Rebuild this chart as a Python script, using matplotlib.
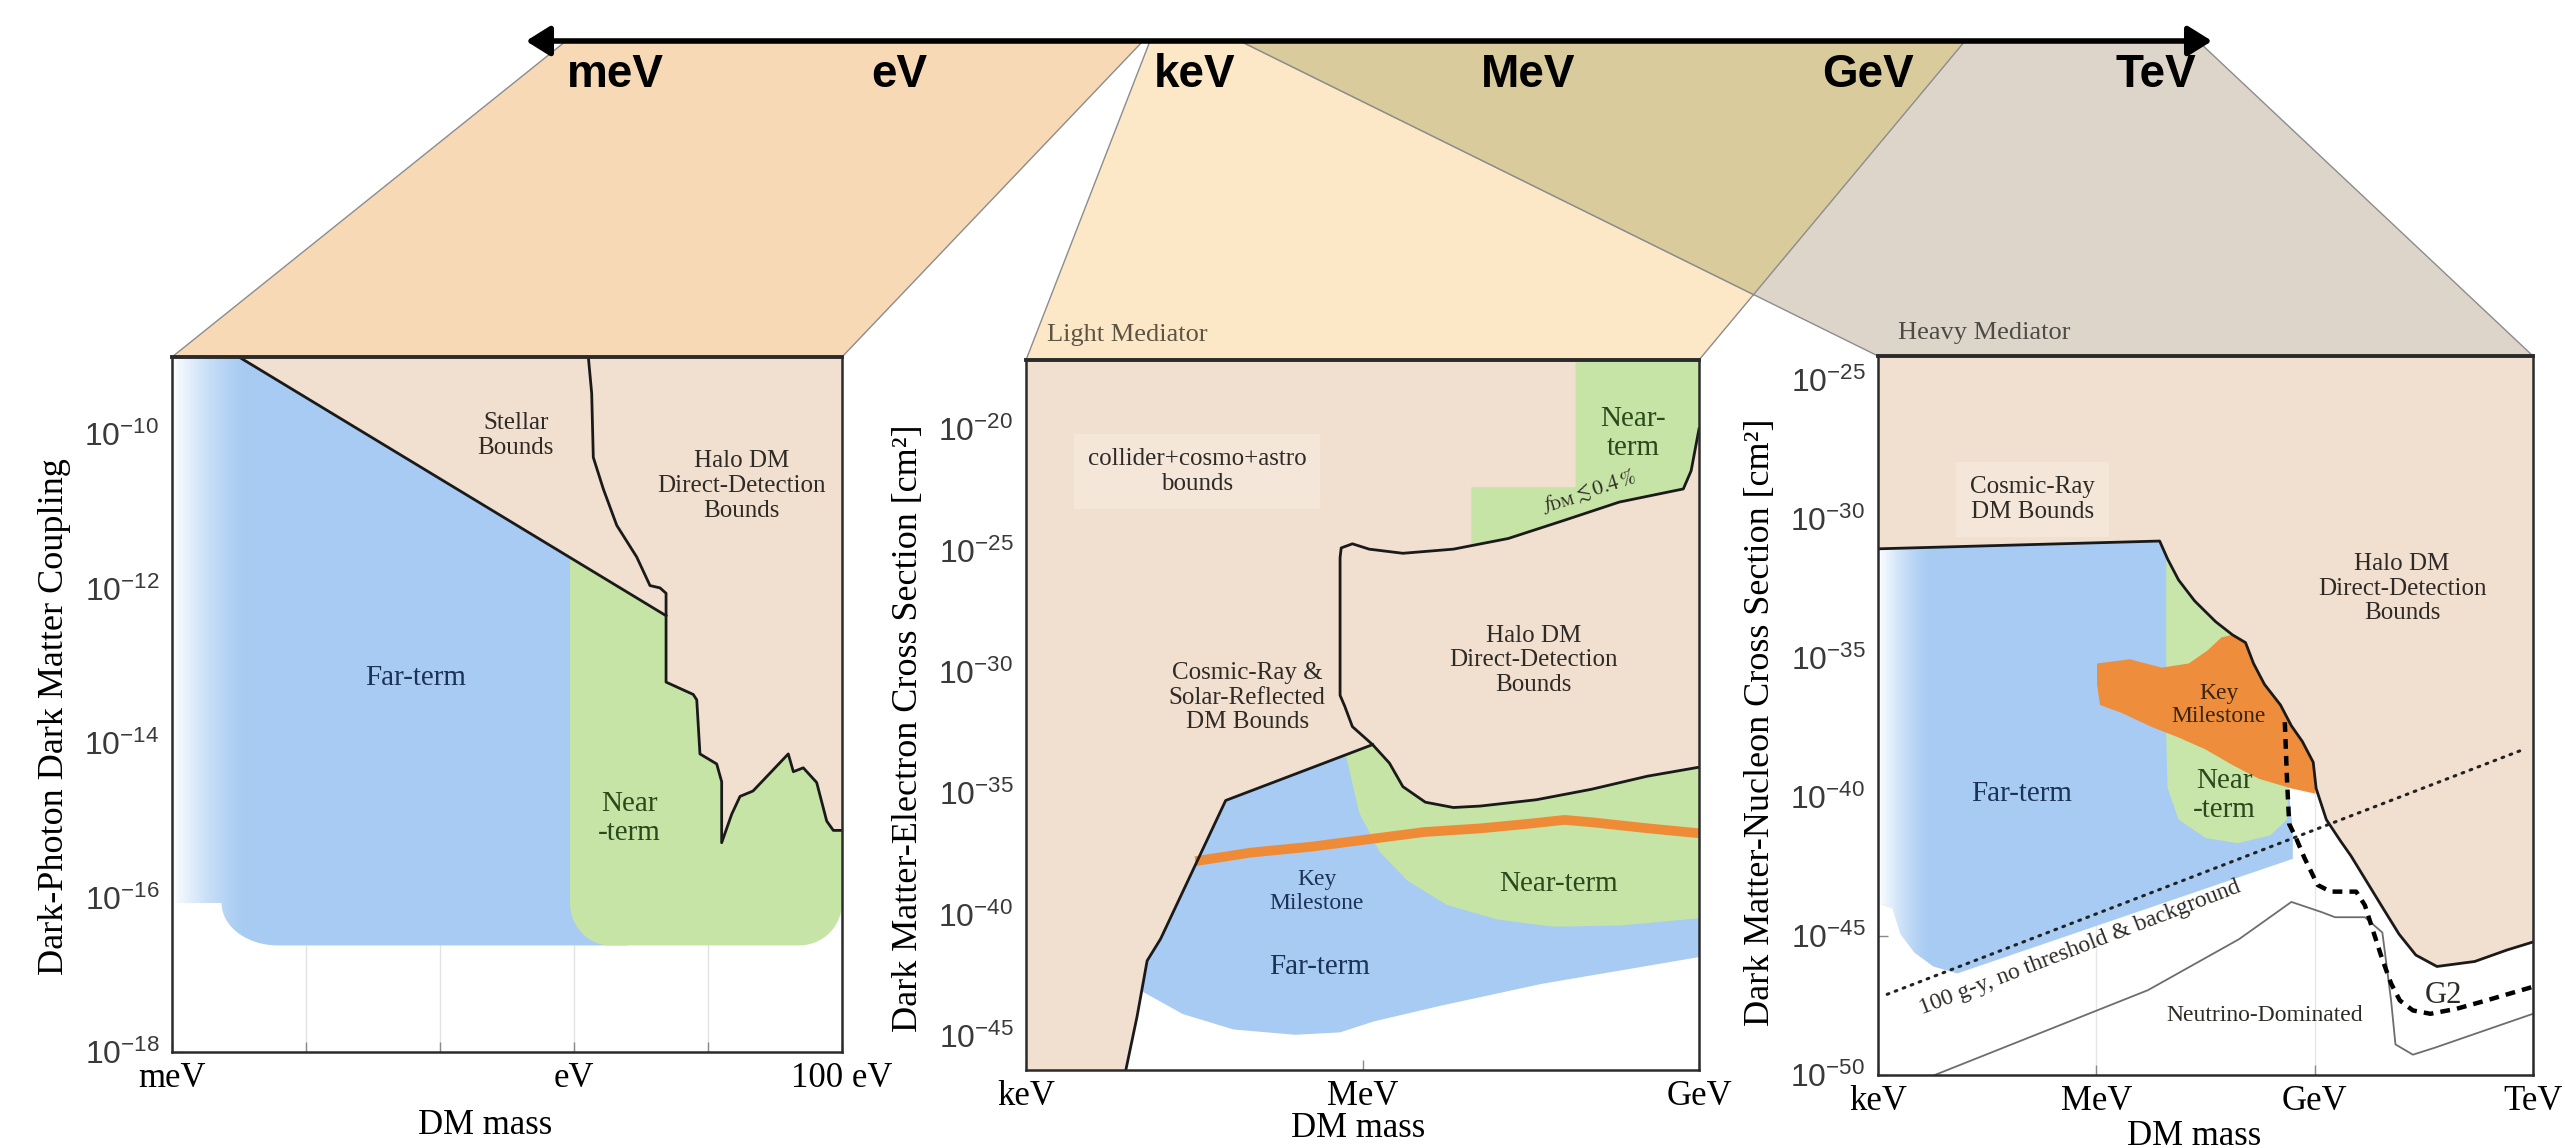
import numpy as np
import matplotlib.pyplot as plt
from matplotlib.patches import Polygon, FancyArrowPatch
from matplotlib.ticker import NullLocator

plt.rcParams['font.family'] = ['Liberation Serif', 'DejaVu Serif']
plt.rcParams['mathtext.fontset'] = 'custom'
plt.rcParams['mathtext.rm'] = 'Liberation Sans'
plt.rcParams['mathtext.it'] = 'Liberation Sans:italic'
plt.rcParams['mathtext.bf'] = 'Liberation Sans:bold'

BEIGE = '#F1DFCF'
BLUE = '#A7CBF2'
GREEN = '#C6E4A6'
ORANGE = '#EE8D3C'
TXT = '#2e2a26'
FAR = '#1c3358'
NEAR = '#2a4a1c'

# mass scale written along the top arrow
scale_names = ['meV', 'eV', 'keV', 'MeV', 'GeV', 'TeV']

# every curve is stored as log10 values (mass in eV, coupling or cross section in cm^2)

# --- dark-photon absorption
p1_xlim = (-3, 2)
p1_ylim = (-18, -9)
p1_diag_x = [-2.50, 0.687]
p1_diag_y = [-9.0, -12.35]
p1_stellar_x = [0.107, 0.132, 0.144, 0.219, 0.319, 0.468, 0.543, 0.567, 0.642, 0.687]
p1_stellar_y = [-9.0, -9.47, -10.30, -10.71, -11.18, -11.59, -11.87, -11.96, -11.99, -12.06]
p1_halo_x = [0.687, 0.687, 0.890, 0.916, 0.940, 1.065, 1.102, 1.102, 1.177, 1.239,
             1.336, 1.599, 1.637, 1.711, 1.811, 1.886, 1.935, 2.0]
p1_halo_y = [-12.35, -13.21, -13.37, -13.44, -14.14, -14.27, -14.50, -15.29, -14.92, -14.69,
             -14.62, -14.14, -14.37, -14.32, -14.51, -15.01, -15.13, -15.13]
p1_floor = -16.62
p1_near_from = -0.03

# --- electron scattering, light mediator
p2_xlim = (3, 9)
p2_ylim = (-46.4, -17.16)
p2_left_x = [3.89, 3.99, 4.08, 4.20, 4.78, 6.09]
p2_left_y = [-46.4, -44.2, -41.9, -41.0, -35.3, -33.0]
p2_halo_x = [9.0, 8.93, 8.86, 8.29, 7.80, 7.30, 6.81, 6.36, 6.06, 5.91, 5.81, 5.80, 5.80,
             5.84, 5.91, 6.09, 6.24, 6.36, 6.56, 6.81, 7.05, 7.55, 8.04, 8.54, 9.0]
p2_halo_y = [-20.0, -21.72, -22.47, -23.01, -23.76, -24.51, -24.95, -25.12, -24.95, -24.73,
             -24.90, -25.3, -30.97, -31.40, -32.26, -33.0, -33.76, -34.73, -35.37, -35.59,
             -35.53, -35.27, -34.84, -34.30, -33.93]
p2_fdm_x = [6.97, 6.97, 7.9]
p2_fdm_y = [-24.8, -22.4, -22.4]
p2_near_x = [5.85, 5.97, 6.15, 6.40, 6.75, 7.2, 7.7, 8.3, 9.0]
p2_near_y = [-33.4, -35.8, -37.4, -38.6, -39.6, -40.2, -40.5, -40.45, -40.15]
p2_far_x = [4.03, 4.4, 4.85, 5.4, 5.8, 6.1, 6.7, 7.6, 9.0]
p2_far_y = [-43.15, -44.1, -44.73, -44.95, -44.85, -44.4, -43.75, -42.85, -41.75]
p2_key_x = [4.51, 5.0, 5.55, 6.05, 6.55, 7.05, 7.5, 7.8, 8.05, 8.55, 9.0]
p2_key_y = [-37.8, -37.45, -37.2, -36.9, -36.6, -36.45, -36.25, -36.1, -36.2, -36.45, -36.65]

# --- nucleon scattering, heavy mediator
p3_xlim = (3, 12)
p3_ylim = (-50, -24.16)
p3_cosmic_x = [3.00, 6.87, 6.98, 7.13, 7.35, 7.64, 7.87, 8.05, 8.16, 8.31, 8.53, 8.68, 8.83,
               8.98, 9.02, 9.16, 9.35, 9.50, 9.72, 9.94, 10.16, 10.39, 10.68, 11.20, 11.64, 12.0]
p3_cosmic_y = [-31.09, -30.81, -31.46, -32.21, -32.96, -33.71, -34.18, -34.46, -35.21, -35.96,
               -36.70, -37.45, -38.01, -38.76, -39.70, -40.82, -41.57, -42.13, -43.07, -44.01,
               -44.94, -45.69, -46.10, -45.92, -45.51, -45.22]
p3_far_x = [8.64, 8.70, 8.70, 4.09, 3.76, 3.50, 3.31, 3.20, 3.00]
p3_far_y = [-39.70, -41.20, -42.23, -46.35, -46.10, -45.60, -44.94, -44.01, -43.82]
p3_near_x = [8.64, 8.62, 8.39, 7.94, 7.50, 7.13, 6.98, 6.96, 6.96]
p3_near_y = [-39.70, -40.82, -41.39, -41.67, -41.48, -40.82, -39.70, -37.83, -31.46]
p3_key_top_x = [6.01, 6.46, 6.90, 7.27, 7.53, 7.72]
p3_key_top_y = [-35.21, -35.06, -35.36, -35.21, -34.74, -34.27]
p3_key_bot_x = [9.01, 8.68, 8.24, 7.87, 7.50, 7.13, 6.76, 6.35, 6.05, 6.01]
p3_key_bot_y = [-39.89, -39.70, -39.36, -38.86, -38.30, -37.87, -37.49, -36.99, -36.70, -35.96]
p3_nu_x = [3.78, 6.71, 7.96, 8.68, 9.10, 9.28, 9.69, 9.93, 10.05, 10.11, 10.35, 10.65, 12.0]
p3_nu_y = [-50.0, -46.95, -45.12, -43.78, -44.15, -44.33, -44.33, -44.88, -47.32, -48.90,
           -49.27, -49.02, -47.80]
p3_g2_x = [8.59, 8.62, 8.65, 8.74, 8.86, 9.04, 9.22, 9.57, 9.69, 9.81, 9.93, 10.05, 10.17,
           10.35, 10.59, 10.95, 11.36, 12.0]
p3_g2_y = [-37.32, -39.39, -40.98, -41.46, -42.20, -43.17, -43.41, -43.41, -43.90, -44.88,
           -45.85, -46.71, -47.32, -47.68, -47.80, -47.62, -47.32, -46.83]
p3_exposure_x = [3.126, 11.87]
p3_exposure_y = [-47.10, -38.30]


def E(v):
    return 10.0 ** np.asarray(v, dtype=float)


def fill(ax, x, y, color, z):
    return ax.fill(E(x), E(y), color=color, lw=0, zorder=z)[0]


def arc(cx, cy, rx, ry, a0, a1, n=16):
    t = np.radians(np.linspace(a0, a1, n))
    return list(cx + rx * np.cos(t)), list(cy + ry * np.sin(t))


def fade(ax, x0, x1, clip, n=40):
    edges = np.linspace(x0, x1, n + 1)
    for i in range(n):
        a = (1 - (i + 0.5) / n) ** 1.4
        s = ax.axvspan(E(edges[i]), E(edges[i + 1]), color='white', alpha=a,
                       lw=0, zorder=2.2, antialiased=False)
        s.set_clip_path(clip)


def label(ax, x, y, s, size=18, color=TXT, **kw):
    ax.text(E(x), E(y), s, ha='center', va='center', fontsize=size, color=color,
            linespacing=1.15, zorder=7, **kw)


def setup(ax, xlim, ylim, xt, xtl, yt, ylab, ylab_xy, xlab_xy):
    ax.set_xscale('log')
    ax.set_yscale('log')
    ax.set_xlim(E(xlim[0]), E(xlim[1]))
    ax.set_ylim(E(ylim[0]), E(ylim[1]))
    ax.set_xticks(E(xt), labels=xtl, fontsize=25)
    ax.set_yticks(E(yt), labels=[f'$10^{{{v}}}$' for v in yt], fontsize=23)
    ax.xaxis.set_minor_locator(NullLocator())
    ax.yaxis.set_minor_locator(NullLocator())
    ax.tick_params(direction='in', length=7, width=1, color='#8a8a8a')
    ax.tick_params(axis='x', pad=7)
    ax.tick_params(axis='y', pad=9, labelcolor='#3a3a3a')
    for s in ax.spines.values():
        s.set_color('#2b2b2b')
        s.set_linewidth(1.8)
        s.set_zorder(8)
    ax.spines['top'].set_linewidth(2.8)
    ax.set_axisbelow(True)
    ax.set_ylabel(ylab, fontsize=26)
    ax.yaxis.label.set_va('center')
    ax.yaxis.set_label_coords(*ylab_xy)
    ax.set_xlabel('DM mass', fontsize=25)
    ax.xaxis.label.set_va('center')
    ax.xaxis.set_label_coords(*xlab_xy)


W, H = 2565, 1148
fig = plt.figure(figsize=(W / 100, H / 100), dpi=100)

bg = fig.add_axes([0, 0, 1, 1])
bg.set_xlim(0, W)
bg.set_ylim(H, 0)
bg.axis('off')

ax1 = fig.add_axes([172 / W, 1 - 1052 / H, 670 / W, 695 / H])
ax2 = fig.add_axes([1026 / W, 1 - 1070 / H, 673 / W, 710 / H])
ax3 = fig.add_axes([1878 / W, 1 - 1075 / H, 655 / W, 719 / H])

# ---------------- top arrow and the three zoom wedges
arrow_y = 41
tops = [(566, 1143), (1150, 1965), (1240, 2198)]
wedge_colors = ['#F8D9B6', '#FCE8C6', '#DDD5CA']
corners = []
for ax, (t0, t1), c in zip([ax1, ax2, ax3], tops, wedge_colors):
    bb = ax.get_position()
    xl, xr, yt = bb.x0 * W, bb.x1 * W, (1 - bb.y1) * H
    corners.append((xl, xr, yt))
    bg.add_patch(Polygon([(t0, arrow_y), (t1, arrow_y), (xr, yt), (xl, yt)],
                         closed=True, facecolor=c, edgecolor='#8c8c8c', lw=1))

# overlap of the light- and heavy-mediator wedges
a0, a1 = (tops[2][0], arrow_y), (corners[2][0], corners[2][2])
b0, b1 = (tops[1][1], arrow_y), (corners[1][1], corners[1][2])
d1 = np.subtract(a1, a0)
d2 = np.subtract(b1, b0)
s = np.cross(np.subtract(b0, a0), d2) / np.cross(d1, d2)
meet = np.add(a0, s * d1)
bg.add_patch(Polygon([a0, b0, meet], closed=True, facecolor='#D9CB9C',
                     edgecolor='#8c8c8c', lw=1))

bg.add_patch(FancyArrowPatch((526, arrow_y), (2212, arrow_y),
                             arrowstyle='<|-|>,head_length=0.8,head_width=0.5',
                             mutation_scale=18, lw=4, color='black',
                             shrinkA=0, shrinkB=0, zorder=5))
for name, x in zip(scale_names, [615, 899, 1195, 1528, 1868, 2156]):
    bg.text(x, 75, name, ha='center', va='center', fontsize=33, fontweight='bold',
            family=['Liberation Sans', 'DejaVu Sans'], color='black')
bg.text(1047, 335, 'Light Mediator', ha='left', va='center', fontsize=19, color='#5e5444')
bg.text(1898, 333, 'Heavy Mediator', ha='left', va='center', fontsize=19, color='#4e4a45')

# ---------------- panel 1
setup(ax1, p1_xlim, p1_ylim, [-3, -2, -1, 0, 1, 2], ['meV', '', '', 'eV', '', '100 eV'],
      [-10, -12, -14, -16, -18], 'Dark-Photon Dark Matter Coupling',
      (-0.175, 0.482), (0.468, -0.106))
ax1.grid(axis='x', color='#e2e2e2', lw=1)


def diag_at(x):
    return float(np.interp(x, p1_diag_x, p1_diag_y))


fill(ax1, [p1_diag_x[0]] + p1_halo_x + [p1_xlim[1]], [p1_ylim[1]] + p1_halo_y + [p1_ylim[1]],
     BEIGE, 1)

bx = [p1_xlim[0], p1_diag_x[0], 0.4, 0.4]
by = [p1_ylim[1], p1_diag_y[0], diag_at(0.4), p1_floor]
cx, cy = arc(-2.21, p1_floor + 0.55, 0.42, 0.55, -90, -180)
bx += cx + [p1_xlim[0]]
by += cy + [p1_floor + 0.55]
blue1 = fill(ax1, bx, by, BLUE, 2)
fade(ax1, -3.0, -2.45, blue1)

gx = [p1_near_from] + p1_halo_x
gy = [diag_at(p1_near_from)] + p1_halo_y
cx, cy = arc(1.68, p1_floor + 0.55, 0.32, 0.55, 0, -90)
gx += cx
gy += cy
cx, cy = arc(p1_near_from + 0.30, p1_floor + 0.55, 0.30, 0.55, -90, -180)
gx += cx
gy += cy
fill(ax1, gx, gy, GREEN, 3)

ax1.plot(E(p1_diag_x), E(p1_diag_y), color='#1a1a1a', lw=2, zorder=5)
ax1.plot(E(p1_stellar_x + p1_halo_x), E(p1_stellar_y + p1_halo_y), color='#1a1a1a', lw=2,
         zorder=5)

label(ax1, -0.434, -10.02, 'Stellar\nBounds')
label(ax1, 1.251, -10.67, 'Halo DM\nDirect-Detection\nBounds')
label(ax1, -1.179, -13.16, 'Far-term', 21, FAR)
label(ax1, 0.415, -14.98, 'Near\n-term', 21, NEAR)

# ---------------- panel 2
setup(ax2, p2_xlim, p2_ylim, [3, 6, 9], ['keV', 'MeV', 'GeV'],
      [-20, -25, -30, -35, -40, -45], 'Dark Matter-Electron Cross Section [cm²]',
      (-0.174, 0.482), (0.494, -0.082))
top, bot = p2_ylim[1], p2_ylim[0]

fill(ax2, [p2_xlim[0]] + p2_left_x + p2_halo_x[16:] + [p2_xlim[1], p2_xlim[0]],
     [bot] + p2_left_y + p2_halo_y[16:] + [top, top], BEIGE, 1)
fill(ax2, [7.9, 9.0] + p2_halo_x[:6] + p2_fdm_x, [top, top] + p2_halo_y[:6] + p2_fdm_y,
     GREEN, 2)
fill(ax2, p2_far_x[:1] + p2_left_x[2:] + p2_halo_x[16:] + p2_far_x[::-1],
     p2_far_y[:1] + p2_left_y[2:] + p2_halo_y[16:] + p2_far_y[::-1], BLUE, 2)
fill(ax2, p2_near_x + p2_halo_x[15:][::-1], p2_near_y + p2_halo_y[15:][::-1], GREEN, 3)

ax2.plot(E(p2_key_x), E(p2_key_y), color='#EF8B36', lw=7, solid_capstyle='butt', zorder=4)
ax2.plot(E(p2_left_x), E(p2_left_y), color='#1a1a1a', lw=2, zorder=5)
ax2.plot(E(p2_halo_x), E(p2_halo_y), color='#1a1a1a', lw=2, zorder=5)

label(ax2, 4.526, -21.76, 'collider+cosmo+astro\nbounds',
      bbox=dict(facecolor='#F4E7DA', edgecolor='none', pad=10))
label(ax2, 8.416, -20.17, 'Near-\nterm', 21, NEAR)
ax2.text(E(8.02), E(-22.55), r'$f_{\rm DM} \lesssim 0.4\,\%$', ha='center', va='center',
         fontsize=15, color=TXT, rotation=17, math_fontfamily='stix', zorder=7)
label(ax2, 7.524, -29.53, 'Halo DM\nDirect-Detection\nBounds')
label(ax2, 4.972, -31.07, 'Cosmic-Ray &\nSolar-Reflected\nDM Bounds')
label(ax2, 5.591, -39.05, 'Key\nMilestone', 17, FAR)
label(ax2, 5.616, -42.15, 'Far-term', 21, FAR)
label(ax2, 7.747, -38.75, 'Near-term', 21, NEAR)

# ---------------- panel 3
setup(ax3, p3_xlim, p3_ylim, [3, 6, 9, 12], ['keV', 'MeV', 'GeV', 'TeV'],
      [-25, -30, -35, -40, -45, -50], 'Dark Matter-Nucleon Cross Section [cm²]',
      (-0.18, 0.491), (0.482, -0.085))
ax3.grid(axis='x', color='#e6e6e6', lw=1)
top = p3_ylim[1]

fill(ax3, p3_cosmic_x + [p3_xlim[1], p3_xlim[0]], p3_cosmic_y + [top, top], BEIGE, 1)
blue3 = fill(ax3, p3_cosmic_x[:12] + p3_far_x, p3_cosmic_y[:12] + p3_far_y, BLUE, 2)
fade(ax3, 3.0, 3.72, blue3)
fill(ax3, p3_cosmic_x[2:12] + p3_near_x, p3_cosmic_y[2:12] + p3_near_y, '#C8E6AA', 3)
fill(ax3, p3_key_top_x + p3_cosmic_x[6:14] + p3_key_bot_x,
     p3_key_top_y + p3_cosmic_y[6:14] + p3_key_bot_y, ORANGE, 4)

ax3.plot(E(p3_cosmic_x), E(p3_cosmic_y), color='#1a1a1a', lw=2, zorder=5)
ax3.plot(E(p3_nu_x), E(p3_nu_y), color='#6d6d6d', lw=1.3, zorder=5)
ax3.plot(E(p3_g2_x), E(p3_g2_y), color='black', lw=3.2, dashes=(2.2, 1.6), zorder=6)
ax3.plot(E(p3_exposure_x), E(p3_exposure_y), color='#222222', lw=2.2,
         dashes=(0.6, 2.2), dash_capstyle='round', zorder=6)

p0 = ax3.transData.transform((E(p3_exposure_x[0]), E(p3_exposure_y[0])))
p1 = ax3.transData.transform((E(p3_exposure_x[1]), E(p3_exposure_y[1])))
ang = np.degrees(np.arctan2(p1[1] - p0[1], p1[0] - p0[0]))

label(ax3, 5.126, -29.31, 'Cosmic-Ray\nDM Bounds',
      bbox=dict(facecolor='#F4E7DA', edgecolor='none', pad=10))
label(ax3, 10.2, -32.53, 'Halo DM\nDirect-Detection\nBounds')
label(ax3, 7.68, -36.70, 'Key\nMilestone', 17, '#3a2410')
label(ax3, 7.76, -39.94, 'Near\n-term', 21, NEAR)
label(ax3, 4.98, -39.89, 'Far-term', 21, FAR)
label(ax3, 5.77, -45.41, '100 g-y, no threshold & background', 17, TXT,
      rotation=ang, rotation_mode='anchor')
label(ax3, 8.31, -47.85, 'Neutrino-Dominated', 17)
label(ax3, 10.77, -47.13, 'G2', 22)

fig.savefig('out.png', dpi=100, facecolor='white')
